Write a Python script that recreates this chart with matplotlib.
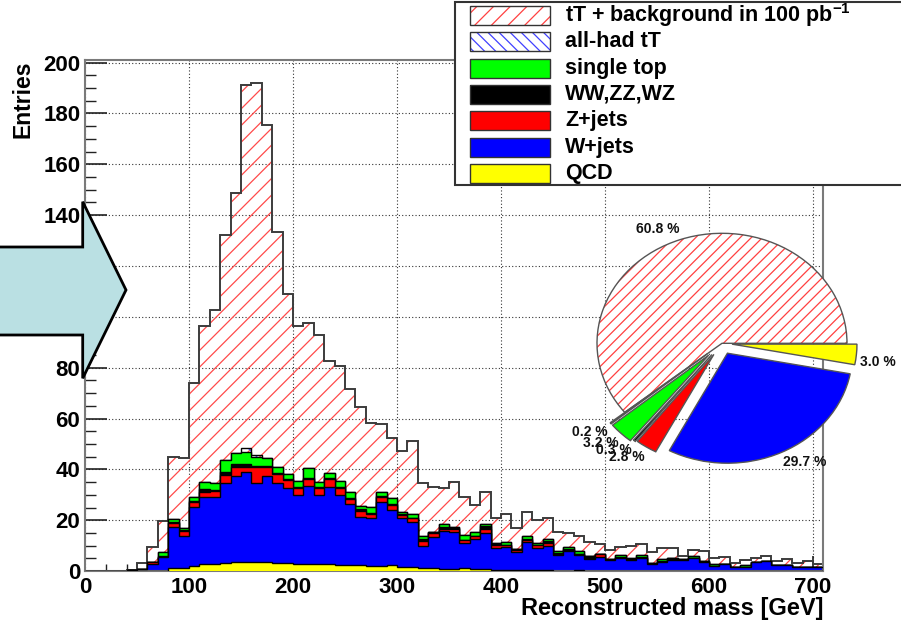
import numpy as np
import matplotlib
matplotlib.use('Agg')
import matplotlib.pyplot as plt
from matplotlib.patches import Polygon, Rectangle
from matplotlib.ticker import MultipleLocator
from matplotlib.transforms import Affine2D

plt.rcParams['font.family'] = ['Liberation Sans', 'DejaVu Sans']
plt.rcParams['font.weight'] = 'bold'
plt.rcParams['mathtext.fontset'] = 'custom'
plt.rcParams['mathtext.rm'] = 'Liberation Sans:bold'
plt.rcParams['mathtext.default'] = 'rm'
plt.rcParams['hatch.linewidth'] = 0.9

# ---------------- data (10 GeV bins, 0 .. 710 GeV) ----------------
bin_edges = np.arange(0, 711, 10)

qcd = [0, 0, 0, 0, 0, 0, 0, 0, 1.3, 1.3,
       2.0, 2.8, 2.8, 3.1, 3.5, 3.5, 3.5, 3.5, 3.1, 3.1,
       2.7, 2.8, 2.6, 2.8, 2.4, 2.4, 2.4, 2.0, 2.2, 2.4,
       1.8, 1.8, 1.2, 1.2, 1.0, 1.0, 1.2, 1.0, 0.8, 0.6,
       0.6, 0.4, 0.6, 0.6, 0.5, 0.2, 0.2, 0.5, 0.1, 0.1,
       0.1, 0.1, 0.1, 0.1, 0, 0, 0, 0, 0, 0,
       0, 0, 0, 0, 0, 0, 0, 0, 0, 0,
       0]

wjets = [0, 0, 0, 0, 0.3, 1.0, 2.8, 5.4, 16.2, 12.5,
         23.4, 26.2, 26.2, 31.5, 33.9, 35.6, 31.3, 33.9, 31.5, 29.5,
         27.3, 30.7, 27.4, 30.4, 27.6, 24.0, 18.8, 18.8, 25.1, 21.6,
         19.0, 17.4, 8.7, 12.3, 14.8, 14.3, 9.7, 11.6, 14.1, 8.4,
         8.8, 7.0, 10.7, 8.4, 9.5, 6.3, 7.9, 6.0, 4.5, 5.3,
         4.3, 4.9, 4.3, 4.9, 2.8, 3.5, 4.4, 4.4, 5.0, 3.7,
         1.9, 2.6, 1.6, 1.5, 3.6, 3.9, 2.3, 2.3, 1.6, 1.6,
         1.6]

zjets = [0, 0, 0, 0, 0, 0, 0.8, 0.2, 1.5, 1.9,
         1.8, 2.3, 2.4, 3.2, 3.7, 2.0, 6.1, 3.5, 3.5, 3.3,
         2.6, 2.8, 2.6, 2.9, 2.6, 2.0, 2.6, 1.5, 2.0, 2.0,
         1.1, 1.6, 1.8, 1.6, 0.9, 1.3, 1.3, 1.2, 1.8, 1.3,
         0.8, 0.8, 1.1, 1.1, 1.2, 0.2, 0.2, 0.2, 0.3, 1.2,
         0, 0.2, 0.1, 0.2, 0, 0.1, 0.1, 0, 0.1, 0,
         0, 0, 0, 0, 0, 0, 0, 0, 0, 0,
         0]

diboson = [0, 0, 0, 0, 0, 0, 0, 0.5, 0.5, 0.5,
           0.5, 0.9, 0.4, 1.0, 1.1, 1.2, 0.5, 0.5, 0.3, 0.3,
           0.3, 0.5, 0.4, 0.4, 0.4, 0.3, 0.5, 0.4, 0.4, 0.3,
           0.4, 0.2, 0.8, 0.1, 0.5, 0.2, 0.2, 0.2, 1.1, 0.5,
           0.2, 0.4, 0.2, 0.2, 0.8, 0.3, 0.2, 0.2, 1.0, 0.1,
           0.3, 0.2, 0.1, 0.2, 0.2, 0.2, 0.5, 0.2, 0.1, 0.2,
           0.1, 0.1, 0.1, 0.1, 0.1, 0.1, 0.1, 0.1, 0.1, 0.1,
           0.1]

singletop = [0, 0, 0, 0, 0, 0, 0, 1.5, 0.9, 0.9,
             1.6, 3.0, 2.8, 4.9, 4.2, 4.7, 3.6, 3.0, 2.7, 1.9,
             2.7, 3.7, 2.2, 2.0, 2.5, 2.6, 1.3, 2.6, 1.6, 2.3,
             0.8, 1.3, 1.3, 0.2, 1.2, 0.7, 1.8, 1.5, 0.7, 0.1,
             1.2, 0, 1.2, 0.6, 0.5, 1.0, 1.0, 1.0, 0, 0,
             0, 0.9, 0.7, 0.9, 0, 0.8, 0, 0, 0.7, 0,
             0.7, 0, 0, 0.8, 0, 0, 0, 0, 0, 0,
             0]

allhad = [0, 0, 0, 0, 0, 0, 0, 0, 0, 0,
          0, 0, 0, 0, 0, 1.3, 0.5, 0, 0, 0,
          0, 0, 0, 0, 0, 0, 0, 0, 0, 0,
          0, 0, 0, 0, 0, 0, 0, 0, 0, 0,
          0, 0, 0, 0, 0, 0, 0, 0, 0, 0,
          0, 0, 0, 0, 0, 0, 0, 0, 0, 0,
          0, 0, 0, 0, 0, 0, 0, 0, 0, 0,
          0]

ttbar = [0, 0, 0, 0, 0.2, 2.0, 5.7, 12.1, 24.6, 27.5,
         44.6, 61.3, 67.9, 88.6, 102.1, 142.7, 146.3, 131.0, 92.1, 70.9,
         60.9, 57.1, 57.6, 44.0, 45.0, 40.3, 38.9, 33.1, 26.6, 23.7,
         24.2, 28.7, 20.8, 17.8, 14.4, 17.7, 15.1, 10.5, 12.8, 9.9,
         10.8, 8.5, 9.6, 9.2, 8.3, 7.5, 5.3, 6.0, 5.7, 4.0,
         3.6, 3.3, 4.7, 4.2, 4.4, 4.4, 4.0, 1.5, 2.4, 4.0,
         2.3, 3.0, 1.6, 2.0, 1.6, 2.1, 1.7, 2.2, 1.6, 2.4,
         1.1]

legend_labels = ['tT + background in 100 pb$^{-1}$', 'all-had tT', 'single top',
                 'WW,ZZ,WZ', 'Z+jets', 'W+jets', 'QCD']

# pie: fractions of the sample (counter-clockwise from 0 deg)
pie_pct = [60.8, 0.2, 3.2, 0.3, 2.8, 29.7, 3.0]

# ---------------- figure ----------------
W, H = 901, 627
fig = plt.figure(figsize=(W / 100, H / 100), dpi=100)
fig.patch.set_facecolor('white')
px = Affine2D().scale(1 / W, -1 / H).translate(0, 1) + fig.transFigure

ax_left, ax_right, ax_top, ax_bot = 85, 823.4, 60, 571.1
ax = fig.add_axes([ax_left / W, 1 - ax_bot / H, (ax_right - ax_left) / W, (ax_bot - ax_top) / H])
ax.set_xlim(0, 710)
ax.set_ylim(0, 201)

components = [qcd, wjets, zjets, diboson, singletop, allhad, ttbar]
cum = np.cumsum(np.array(components, dtype=float), axis=0)

styles = [
    dict(fc='#ffff00', ec='#ffff00', hatch=None, oc='black', olw=1.0),
    dict(fc='#0000ff', ec='#0000ff', hatch=None, oc='black', olw=1.0),
    dict(fc='#ff0000', ec='#ff0000', hatch=None, oc='black', olw=1.0),
    dict(fc='#000000', ec='#000000', hatch=None, oc='black', olw=1.0),
    dict(fc='#00ff00', ec='#00ff00', hatch=None, oc='black', olw=1.0),
    dict(fc='none', ec='#4a4aff', hatch='\\\\', oc='black', olw=1.0),
    dict(fc='none', ec='#ff4a4a', hatch='//', oc='#3c3c3c', olw=1.4),
]
for i in range(len(components) - 1, -1, -1):
    s = styles[i]
    ax.stairs(cum[i], bin_edges, baseline=0, fill=True, facecolor=s['fc'],
              edgecolor=s['ec'], hatch=s['hatch'], linewidth=0, zorder=2 + (6 - i) * 0.1)
    ax.stairs(cum[i], bin_edges, baseline=0, fill=False, edgecolor=s['oc'],
              linewidth=s['olw'], zorder=2.05 + (6 - i) * 0.1)

ax.xaxis.set_major_locator(MultipleLocator(100))
ax.xaxis.set_minor_locator(MultipleLocator(20))
ax.yaxis.set_major_locator(MultipleLocator(20))
ax.yaxis.set_minor_locator(MultipleLocator(5))
ax.tick_params(axis='both', which='both', direction='in', color='#222222',
               top=False, right=False)
ax.tick_params(axis='x', which='major', length=10.8, width=1.2, labelsize=16, pad=4.6)
ax.tick_params(axis='x', which='minor', length=5.4, width=1.0)
ax.tick_params(axis='y', which='major', length=15.8, width=1.2, labelsize=16, pad=3.4)
ax.tick_params(axis='y', which='minor', length=7.9, width=1.0)
for lab in ax.get_xticklabels() + ax.get_yticklabels():
    lab.set_fontweight('bold')

ax.grid(True, which='major', linestyle=(0, (1, 2)), color='#333333', linewidth=0.8)
ax.set_axisbelow(True)
for sp in ax.spines.values():
    sp.set_color('#7a7a7a')
    sp.set_linewidth(1.5)

ax.set_xlabel('Reconstructed mass [GeV]', loc='right', fontsize=17, fontweight='bold')
ax.xaxis.set_label_coords(1.0, -(597 - ax_bot) / (ax_bot - ax_top))
ax.set_ylabel('Entries', loc='top', fontsize=16.5, fontweight='bold')
ax.yaxis.set_label_coords((35 - ax_left) / (ax_right - ax_left), 1.0)

# ---------------- pie inset ----------------
pax = fig.add_axes([545 / W, 1 - 505 / H, (901 - 545) / W, (505 - 198) / H])
pax.set_facecolor('white')
pax.set_xticks([])
pax.set_yticks([])
for sp in pax.spines.values():
    sp.set_visible(False)

pie_colors = ['white', 'white', '#00ff00', '#000000', '#ff0000', '#0000ff', '#ffff00']
pie_hatch_colors = ['#ff4040', '#4040ff', None, None, None, None, None]
pie_hatches = ['///', '\\\\\\', None, None, None, None, None]
explode = [0, 0.15, 0.15, 0.13, 0.12, 0.1, 0.08]

wedges, _ = pax.pie(pie_pct, explode=explode, startangle=0, counterclock=True,
                    colors=pie_colors, wedgeprops=dict(linewidth=0))
for wdg, hc, hh in zip(wedges, pie_hatch_colors, pie_hatches):
    if hh is not None:
        wdg.set_edgecolor(hc)
        wdg.set_hatch(hh)
        wdg.set_linewidth(0)
pax.pie(pie_pct, explode=explode, startangle=0, counterclock=True,
        wedgeprops=dict(fill=False, edgecolor='#555555', linewidth=1.0))

for wdg, ex, pct in zip(wedges, explode, pie_pct):
    th = np.deg2rad((wdg.theta1 + wdg.theta2) / 2)
    R = 1.0 + ex + 0.03
    cx, cy = np.cos(th), np.sin(th)
    pax.text(R * cx, R * cy, f'{pct:.1f} %', fontsize=10, fontweight='bold',
             ha='left' if cx > 0 else 'right', va='bottom' if cy > 0 else 'top',
             color='#111111')

pax.set_aspect('auto')
pax.set_xlim(-(722 - 545) / 125, (901 - 722) / 125)
pax.set_ylim(-(505 - 343.3) / 110, (343.3 - 198) / 110)

# ---------------- arrow ----------------
arrow_px = [(-5, 247), (82.7, 247), (82.7, 201.7), (126, 290), (82.7, 378.3), (82.7, 335), (-5, 335)]
fig.add_artist(Polygon(arrow_px, closed=True, transform=px, facecolor='#bae0e3',
                       edgecolor='black', linewidth=2, zorder=10))

# ---------------- legend ----------------
fig.add_artist(Rectangle((455, 2), 470, 183, transform=px, facecolor='white',
                         edgecolor='#333333', linewidth=1.5, zorder=11))
leg_styles = [
    dict(fc='white', hc='#ff4040', hatch='//'),
    dict(fc='white', hc='#4040ff', hatch='\\\\\\'),
    dict(fc='#00ff00', hc=None, hatch=None),
    dict(fc='#000000', hc=None, hatch=None),
    dict(fc='#ff0000', hc=None, hatch=None),
    dict(fc='#0000ff', hc=None, hatch=None),
    dict(fc='#ffff00', hc=None, hatch=None),
]
for i, (lab, st) in enumerate(zip(legend_labels, leg_styles)):
    top = 6 + 26.3 * i
    if st['hatch']:
        fig.add_artist(Rectangle((470, top), 80, 19, transform=px, facecolor='white',
                                 edgecolor=st['hc'], hatch=st['hatch'], linewidth=0, zorder=12))
    else:
        fig.add_artist(Rectangle((470, top), 80, 19, transform=px, facecolor=st['fc'],
                                 edgecolor='none', zorder=12))
    fig.add_artist(Rectangle((470, top), 80, 19, transform=px, fill=False,
                             edgecolor='#333333', linewidth=1.0, zorder=12.5))
    fig.text(565, top + 9.5, lab, transform=px, fontsize=15.5, fontweight='bold',
             ha='left', va='center', zorder=13)

fig.savefig('out.png', dpi=100)
